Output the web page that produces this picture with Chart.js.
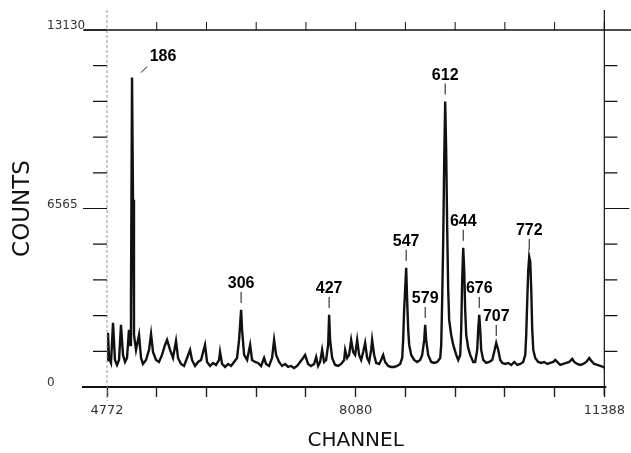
<!DOCTYPE html>
<html>
<head>
<meta charset="utf-8">
<script src="https://cdn.jsdelivr.net/npm/chart.js@4.4.1/dist/chart.umd.min.js"></script>
<style>
  html, body { margin: 0; padding: 0; background: #fff; }
  canvas { display: block; }
</style>
</head>
<body>
<canvas id="spectrum" width="631" height="453"></canvas>
<script>
// spectrum trace
const channels = [
  4772, 4785, 4799, 4825, 4852, 4878, 4905, 4932, 4958, 4985, 5012, 5038, 5064, 5078, 5091, 5105, 5118, 5131, 5158, 5198,
  5225, 5251, 5291, 5331, 5358, 5384, 5424, 5464, 5504, 5544, 5571, 5611, 5650, 5690, 5717, 5757, 5797, 5837, 5877, 5903,
  5943, 5983, 6023, 6076, 6103, 6143, 6183, 6223, 6263, 6276, 6303, 6343, 6383, 6423, 6462, 6502, 6529, 6556, 6569, 6596,
  6636, 6676, 6702, 6742, 6782, 6822, 6862, 6888, 6928, 6968, 6995, 7022, 7061, 7101, 7141, 7181, 7221, 7261, 7301, 7341,
  7381, 7408, 7447, 7487, 7527, 7554, 7581, 7607, 7634, 7660, 7687, 7714, 7727, 7740, 7767, 7807, 7847, 7887, 7927, 7940,
  7967, 7993, 8020, 8047, 8073, 8100, 8126, 8153, 8180, 8206, 8233, 8259, 8286, 8299, 8326, 8353, 8393, 8419, 8446, 8472,
  8512, 8552, 8592, 8632, 8672, 8699, 8712, 8725, 8752, 8765, 8779, 8792, 8819, 8858, 8898, 8938, 8965, 8992, 9005, 9018,
  9045, 9085, 9125, 9165, 9205, 9218, 9231, 9245, 9258, 9271, 9284, 9298, 9311, 9324, 9351, 9378, 9418, 9444, 9471, 9484,
  9497, 9511, 9524, 9537, 9551, 9577, 9604, 9644, 9670, 9697, 9710, 9724, 9737, 9750, 9777, 9817, 9857, 9897, 9923, 9950,
  9977, 10003, 10030, 10070, 10110, 10150, 10190, 10230, 10269, 10309, 10336, 10349, 10363, 10376, 10389, 10403, 10416, 10429, 10443, 10469,
  10509, 10549, 10589, 10629, 10669, 10709, 10735, 10762, 10802, 10842, 10882, 10922, 10962, 10988, 11028, 11068, 11108, 11148, 11188, 11215,
  11254, 11294, 11334, 11374, 11388
]
const counts = [
  994, 1989, 1068, 884, 2357, 994, 810, 994, 2283, 1179, 921, 1068, 2099, 1547, 3204, 11380, 6887, 1915, 1363, 1915,
  1068, 847, 994, 1363, 1952, 1289, 994, 921, 1179, 1547, 1731, 1363, 1068, 1694, 1068, 847, 773, 1068, 1363, 994,
  773, 921, 994, 1547, 921, 773, 884, 810, 994, 1289, 847, 737, 847, 773, 921, 1068, 1731, 2836, 2099, 1179,
  994, 1547, 994, 921, 884, 773, 1068, 847, 773, 1068, 1731, 1179, 921, 773, 847, 737, 773, 700, 773, 921,
  1068, 1179, 847, 773, 847, 1105, 773, 921, 1363, 921, 994, 1547, 2652, 1731, 1068, 810, 773, 847, 994, 1363,
  1068, 1179, 1731, 1289, 1179, 1731, 1179, 994, 1289, 1621, 1068, 921, 1363, 1731, 1179, 884, 847, 994, 1179, 921,
  773, 737, 737, 773, 847, 1068, 1731, 2836, 4383, 3204, 2099, 1547, 1179, 994, 921, 994, 1179, 1731, 2283, 1731,
  1179, 921, 884, 921, 1068, 1547, 3204, 5414, 8360, 10497, 8729, 5782, 3573, 2468, 1915, 1547, 1179, 994, 1179, 2099,
  3941, 5119, 4309, 2836, 1915, 1436, 1179, 921, 921, 1363, 2099, 2652, 2099, 1363, 994, 884, 921, 994, 1289, 1621,
  1363, 994, 884, 847, 884, 810, 921, 810, 847, 921, 1179, 1915, 3204, 4309, 4788, 4604, 3573, 2099, 1363, 1068,
  921, 884, 921, 847, 884, 921, 994, 921, 810, 847, 884, 921, 1031, 921, 847, 810, 847, 921, 1068, 958,
  847, 810, 773, 737, 700
]

// peak markers
const peakLabels = ['186', '306', '427', '547', '579', '612', '644', '676', '707', '772']
const peakChannels = [5105, 6556, 7727, 8752, 9005, 9271, 9511, 9724, 9950, 10389]

// axes
const xMin = 4772
const xMax = 11388
const xLabelValues = [4772, 8080, 11388]
const yMax = 13130
const yLabelValues = [0, 6565, 13130]

const xTickValues = []
for (let i = 0; i <= 10; i++) xTickValues.push(xMin + i * (xMax - xMin) / 10)
const yTickValues = []
for (let i = 0; i <= 10; i++) yTickValues.push(i * yMax / 10)

const points = channels.map((c, i) => ({ x: c, y: counts[i] }))

const frame = {
  id: 'frame',
  afterDraw (chart) {
    const { ctx, chartArea: a, scales: { x, y } } = chart
    ctx.save()
    ctx.strokeStyle = '#111'
    ctx.lineCap = 'butt'

    // top line and upward ticks
    ctx.lineWidth = 1.5
    ctx.beginPath()
    ctx.moveTo(84, a.top); ctx.lineTo(631, a.top)
    ctx.stroke()
    ctx.lineWidth = 1
    xTickValues.slice(1).forEach((v) => {
      const px = x.getPixelForValue(v)
      ctx.beginPath()
      ctx.moveTo(px, a.top); ctx.lineTo(px, a.top - 8)
      ctx.stroke()
    })

    // bottom line
    ctx.lineWidth = 2
    ctx.beginPath()
    ctx.moveTo(82, a.bottom); ctx.lineTo(a.right + 2, a.bottom)
    ctx.stroke()

    // left axis, faint dashed
    ctx.save()
    ctx.strokeStyle = '#999'
    ctx.lineWidth = 1
    ctx.setLineDash([3, 2])
    ctx.beginPath()
    ctx.moveTo(a.left, 10); ctx.lineTo(a.left, a.bottom + 14)
    ctx.stroke()
    ctx.restore()

    // right axis
    ctx.lineWidth = 1.2
    ctx.beginPath()
    ctx.moveTo(a.right, 10); ctx.lineTo(a.right, a.bottom + 8)
    ctx.stroke()

    // left and right ticks
    yTickValues.forEach((v, i) => {
      const py = y.getPixelForValue(v)
      const major = (i % 5 === 0)
      ctx.lineWidth = 1.2
      ctx.beginPath()
      ctx.moveTo(a.left - (major ? 24 : 14), py); ctx.lineTo(a.left, py)
      if (i > 0 && i < 10) {
        ctx.moveTo(a.right, py); ctx.lineTo(a.right + (i === 5 ? 25 : 13), py)
      }
      ctx.stroke()
    })

    // y labels
    ctx.fillStyle = '#333'
    ctx.font = '12px "DejaVu Sans"'
    ctx.textAlign = 'left'
    ctx.textBaseline = 'middle'
    yLabelValues.forEach((v) => {
      ctx.fillText(String(v), 47, y.getPixelForValue(v) - 4)
    })

    // peak labels
    ctx.fillStyle = '#000'
    ctx.font = 'bold 16px "Liberation Sans"'
    ctx.textAlign = 'center'
    ctx.lineWidth = 1
    peakChannels.forEach((c, i) => {
      const px = x.getPixelForValue(c)
      const py = y.getPixelForValue(counts[channels.indexOf(c)])
      ctx.beginPath()
      if (i === 0) {
        ctx.fillText(peakLabels[i], px + 31, py - 21)
        ctx.moveTo(px + 15, py - 11); ctx.lineTo(px + 9, py - 5)
      } else {
        ctx.fillText(peakLabels[i], px, py - 26)
        ctx.moveTo(px, py - 18); ctx.lineTo(px, py - 7)
      }
      ctx.stroke()
    })
    ctx.restore()
  }
}

const chart = new Chart(document.getElementById('spectrum'), {
  type: 'line',
  data: {
    datasets: [
      {
        data: points,
        borderColor: '#111',
        borderWidth: 2.4,
        pointRadius: 0,
        tension: 0,
        fill: false
      }
    ]
  },
  options: {
    responsive: false,
    animation: false,
    devicePixelRatio: 1,
    layout: { padding: { top: 30, right: 26, left: 0, bottom: 0 } },
    scales: {
      x: {
        type: 'linear',
        position: 'bottom',
        min: xMin,
        max: xMax,
        afterBuildTicks: (s) => { s.ticks = xTickValues.map((v) => ({ value: v })) },
        afterFit: (s) => { s.height = 66 },
        ticks: {
          autoSkip: false,
          maxRotation: 0,
          padding: 6,
          color: '#333',
          font: { family: 'DejaVu Sans', size: 13 },
          callback: (v) => {
            const hit = xLabelValues.find((l) => Math.abs(l - v) < 1)
            return hit === undefined ? '' : String(hit)
          }
        },
        grid: {
          drawOnChartArea: false,
          drawTicks: true,
          tickLength: 10,
          tickColor: '#222',
          tickWidth: 1.4
        },
        border: { display: false },
        title: {
          display: true,
          text: 'CHANNEL',
          color: '#111',
          font: { family: 'DejaVu Sans', size: 20 },
          padding: 0
        }
      },
      y: {
        min: 0,
        max: yMax,
        afterBuildTicks: (s) => { s.ticks = yTickValues.map((v) => ({ value: v })) },
        afterFit: (s) => { s.width = 107 },
        ticks: { display: false },
        grid: { display: false },
        border: { display: false },
        title: {
          display: true,
          text: 'COUNTS',
          color: '#111',
          font: { family: 'DejaVu Sans', size: 23 },
          padding: { top: 9, bottom: 0 }
        }
      }
    },
    plugins: {
      legend: { display: false },
      tooltip: { enabled: false }
    }
  },
  plugins: [frame]
})
</script>
</body>
</html>
